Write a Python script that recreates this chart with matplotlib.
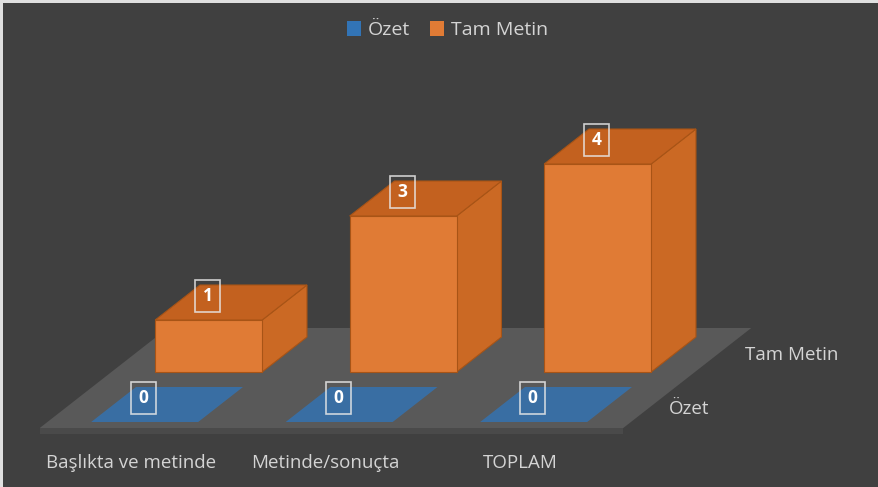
import numpy as np
import matplotlib.pyplot as plt
from matplotlib.patches import Polygon, Rectangle, Patch

# data
categories = ["Başlıkta ve metinde", "Metinde/sonuçta", "TOPLAM"]
series_names = ["Özet", "Tam Metin"]
ozet = [0, 0, 0]
tam_metin = [1, 3, 4]

# colours
BG = "#404040"
FLOOR = "#595959"
FLOOR_EDGE = "#4a4a4a"
TEXT = "#d4d4d4"
BLUE = "#3274b6"
ORANGE_FRONT = "#e07b35"
ORANGE_TOP = "#c3611f"
ORANGE_SIDE = "#cb6924"
ORANGE_EDGE = "#a85416"

# oblique projection, in pixels of the 879x487 canvas
X0, Y0 = 137, 428      # centre of first category on the floor front edge
U_STEP = 194.5         # px per category
Z_STEP = 52            # px per value unit
DX, DY = 128, 100      # px per unit of depth (floor is 1 deep)
BAR_W = 0.55
ROW_DEPTH = 0.35
ROW_D = [0.06, 0.56]   # front of each series row


def proj(u, d, z=0.0):
    return (X0 + u * U_STEP + d * DX, Y0 - z * Z_STEP - d * DY)


def draw_bar(ax, u, d0, h, front, top, side, edge, alpha=1.0):
    u0, u1 = u - BAR_W / 2, u + BAR_W / 2
    d1 = d0 + ROW_DEPTH
    if h > 0:
        ax.add_patch(Polygon([proj(u1, d0), proj(u1, d1), proj(u1, d1, h), proj(u1, d0, h)],
                             closed=True, fc=side, ec=edge, lw=0.8, alpha=alpha))
        ax.add_patch(Polygon([proj(u0, d0), proj(u1, d0), proj(u1, d0, h), proj(u0, d0, h)],
                             closed=True, fc=front, ec=edge, lw=0.8, alpha=alpha))
    ax.add_patch(Polygon([proj(u0, d0, h), proj(u1, d0, h), proj(u1, d1, h), proj(u0, d1, h)],
                         closed=True, fc=top, ec=edge, lw=0.8, alpha=alpha))


def draw_label(ax, u, d0, h, value):
    x, y = proj(u, d0, h)
    x -= 1
    y -= 24
    ax.add_patch(Rectangle((x - 12.5, y - 16), 25, 32, fc="none", ec="#e8e8e8", lw=1.2, alpha=0.85))
    ax.text(x, y, str(value), ha="center", va="center", color="white",
            fontsize=12.5, fontweight="bold", family="Open Sans")


fig = plt.figure(figsize=(8.79, 4.87), dpi=100)
fig.patch.set_facecolor(BG)
ax = fig.add_axes([0, 0, 1, 1])
ax.set_facecolor(BG)
ax.set_xlim(0, 879)
ax.set_ylim(487, 0)
ax.axis("off")

n = len(categories)

# floor with a thin front slab
ax.add_patch(Polygon([proj(-0.5, 0, -0.12), proj(n - 0.5, 0, -0.12),
                      proj(n - 0.5, 0), proj(-0.5, 0)], closed=True, fc=FLOOR_EDGE, ec="none"))
ax.add_patch(Polygon([proj(-0.5, 0), proj(n - 0.5, 0), proj(n - 0.5, 1), proj(-0.5, 1)],
                     closed=True, fc=FLOOR, ec="none"))

# back row first (Tam Metin), then front row (Özet)
for i, v in enumerate(tam_metin):
    draw_bar(ax, i, ROW_D[1], v, ORANGE_FRONT, ORANGE_TOP, ORANGE_SIDE, ORANGE_EDGE)
    draw_label(ax, i, ROW_D[1], v, v)

for i, v in enumerate(ozet):
    draw_bar(ax, i, ROW_D[0], v, BLUE, BLUE, BLUE, "none", alpha=0.8)
    draw_label(ax, i, ROW_D[0], v, v)

# category labels
for i, c in enumerate(categories):
    x, y = proj(i, 0)
    ax.text(x - 6, y + 35, c, ha="center", va="center", color=TEXT, fontsize=13.5, family="Open Sans")

# series labels on the depth axis
for k, s in enumerate(series_names):
    x, y = proj(n - 0.5, ROW_D[k] + ROW_DEPTH / 2)
    ax.text(x + 16 + 12 * k, y + 4 - 3 * k, s, ha="left", va="center", color=TEXT, fontsize=13.5,
            family="Open Sans")

# legend
handles = [Patch(fc=BLUE, ec="none"), Patch(fc=ORANGE_FRONT, ec="none")]
leg = ax.legend(handles, series_names, loc="center", bbox_to_anchor=(0.509, 0.938), ncol=2,
                frameon=False, handlelength=0.75, handleheight=0.75, handletextpad=0.35,
                columnspacing=1.0, prop={"family": "Open Sans", "size": 14})
for t in leg.get_texts():
    t.set_color(TEXT)

# thin light margin at top and left, as in the screenshot
fig.add_artist(Rectangle((0, 0), 3 / 879, 1, transform=fig.transFigure, fc="#e0e0e0", ec="none"))
fig.add_artist(Rectangle((0, 1 - 3 / 487), 1, 3 / 487, transform=fig.transFigure, fc="#e0e0e0", ec="none"))

fig.savefig("out.png", dpi=100, facecolor=fig.get_facecolor())
